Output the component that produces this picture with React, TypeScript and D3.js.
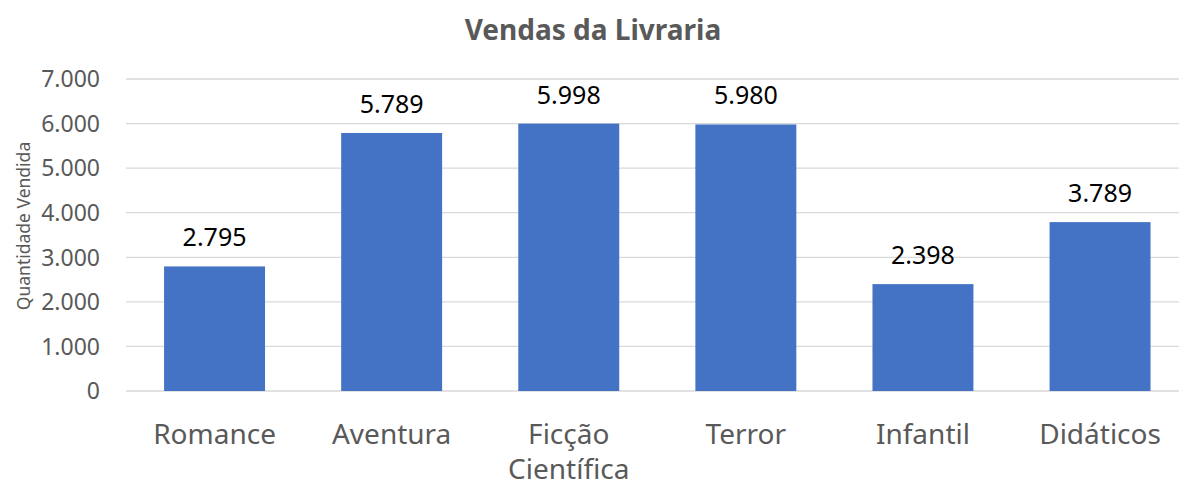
import React from "react";
import * as d3 from "d3";

const categories: string[][] = [["Romance"], ["Aventura"], ["Ficção", "Científica"], ["Terror"], ["Infantil"], ["Didáticos"]];
const values: number[] = [2795, 5789, 5998, 5980, 2398, 3789];
const yTicks: number[] = [0, 1000, 2000, 3000, 4000, 5000, 6000, 7000];
const title = "Vendas da Livraria";
const yTitle = "Quantidade Vendida";

const W = 1179, H = 486;
const FONT = "'Noto Sans', 'Open Sans', sans-serif";

const locale = d3.formatLocale({ decimal: ",", thousands: ".", grouping: [3], currency: ["R$", ""] });
const fmt = locale.format(",d");

export default function App() {
  const x = d3.scaleBand<number>()
    .domain(values.map((_, i) => i))
    .range([126, 1188.6])
    .paddingInner(0.43)
    .paddingOuter(0.215);
  const y = d3.scaleLinear().domain([0, 7000]).range([391, 79]);

  return (
    <div style={{ position: "absolute", left: 0, top: 0 }}>
      <svg width={W} height={H} style={{ display: "block", background: "#fff" }}>
        <text x={593} y={40} textAnchor="middle" fontFamily={FONT} fontWeight="bold" fontSize={28} fill="#595959">{title}</text>
        {yTicks.map((t) => (
          <g key={t}>
            <line x1={126} x2={W} y1={y(t)} y2={y(t)} stroke="#d9d9d9" strokeWidth={1.3} />
            <text x={100} y={y(t)} dy="0.36em" textAnchor="end" fontFamily={FONT} fontSize={23} fill="#595959">{fmt(t)}</text>
          </g>
        ))}
        <text transform={`translate(30, 226) rotate(-90)`} textAnchor="middle" fontFamily={FONT} fontSize={17.5} fill="#595959">{yTitle}</text>
        {values.map((v, i) => {
          const bx = x(i)!;
          const bw = x.bandwidth();
          const cx = bx + bw / 2;
          return (
            <g key={i}>
              <rect x={bx} y={y(v)} width={bw} height={y(0) - y(v)} fill="#4472C4" />
              <text x={cx} y={y(v) - 20} textAnchor="middle" fontFamily={FONT} fontSize={25} fill="#000">{fmt(v)}</text>
              {categories[i].map((line, j) => (
                <text key={j} x={cx} y={444 + j * 35} textAnchor="middle" fontFamily={FONT} fontSize={28} fill="#595959">{line}</text>
              ))}
            </g>
          );
        })}
      </svg>
    </div>
  );
}
